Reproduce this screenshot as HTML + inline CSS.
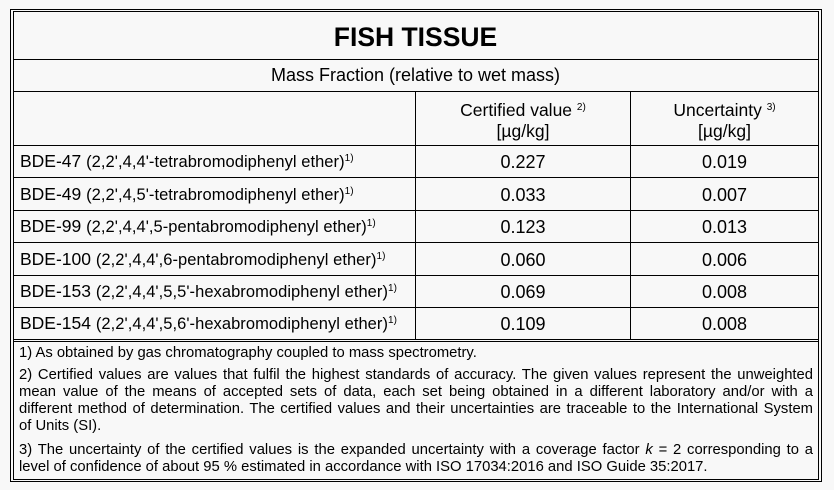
<!DOCTYPE html>
<html><head><meta charset="utf-8"><style>
body{margin:0;width:834px;height:490px;background:#f8f8f8;font-family:"Liberation Sans",sans-serif;color:#000;position:relative;overflow:hidden}
.l{position:absolute;background:#000}
.t{position:absolute;white-space:nowrap;line-height:1}
.c{text-align:center}
sup{font-size:10px;vertical-align:6px}
.fn{position:absolute;left:19px;width:794px;font-size:14.8px;line-height:17px;white-space:nowrap}
.j{text-align:justify;text-align-last:justify;white-space:normal}
.p{font-size:16.5px;letter-spacing:0.05px}
.v{font-size:18px}
</style></head><body>
<div style="position:absolute;left:10px;top:9px;width:810px;height:471px;border:1px solid #000"></div>
<div style="position:absolute;left:13px;top:11px;width:804px;height:467px;border:1px solid #000"></div>
<div class="l" style="left:13px;top:59px;width:805px;height:1px"></div>
<div class="l" style="left:13px;top:91px;width:805px;height:1px"></div>
<div class="l" style="left:13px;top:145px;width:805px;height:1px"></div>
<div class="l" style="left:13px;top:177px;width:805px;height:1px"></div>
<div class="l" style="left:13px;top:210px;width:805px;height:1px"></div>
<div class="l" style="left:13px;top:242px;width:805px;height:1px"></div>
<div class="l" style="left:13px;top:275px;width:805px;height:1px"></div>
<div class="l" style="left:13px;top:307px;width:805px;height:1px"></div>
<div class="l" style="left:13px;top:339px;width:805px;height:1px"></div>
<div class="l" style="left:13px;top:341px;width:805px;height:1px"></div>
<div class="l" style="left:415px;top:91px;width:1px;height:249px"></div>
<div class="l" style="left:630px;top:91px;width:1px;height:249px"></div>

<div class="t c" style="left:13px;width:805px;top:24px;font-size:26.5px;font-weight:bold">FISH TISSUE</div>
<div class="t c" style="left:13px;width:805px;top:66px;font-size:18px">Mass Fraction (relative to wet mass)</div>
<div class="t c" style="left:416px;width:214px;top:97px;font-size:17.5px;line-height:21px">Certified value <sup>2)</sup><br>[µg/kg]</div>
<div class="t c" style="left:631px;width:187px;top:97px;font-size:17.5px;line-height:21px">Uncertainty <sup>3)</sup><br>[µg/kg]</div>

<div class="t" style="left:20px;top:153px;font-size:17.5px">BDE-47 <span class="p">(2,2',4,4'-tetrabromodiphenyl ether)<sup>1)</sup></span></div>
<div class="t" style="left:20px;top:186px;font-size:17.5px">BDE-49 <span class="p">(2,2',4,5'-tetrabromodiphenyl ether)<sup>1)</sup></span></div>
<div class="t" style="left:20px;top:218px;font-size:17.5px">BDE-99 <span class="p">(2,2',4,4',5-pentabromodiphenyl ether)<sup>1)</sup></span></div>
<div class="t" style="left:20px;top:251px;font-size:17.5px">BDE-100 <span class="p">(2,2',4,4',6-pentabromodiphenyl ether)<sup>1)</sup></span></div>
<div class="t" style="left:20px;top:283px;font-size:17.5px">BDE-153 <span class="p">(2,2',4,4',5,5'-hexabromodiphenyl ether)<sup>1)</sup></span></div>
<div class="t" style="left:20px;top:315px;font-size:17.5px">BDE-154 <span class="p">(2,2',4,4',5,6'-hexabromodiphenyl ether)<sup>1)</sup></span></div>

<div class="t c v" style="left:416px;width:214px;top:153px">0.227</div>
<div class="t c v" style="left:416px;width:214px;top:186px">0.033</div>
<div class="t c v" style="left:416px;width:214px;top:218px">0.123</div>
<div class="t c v" style="left:416px;width:214px;top:251px">0.060</div>
<div class="t c v" style="left:416px;width:214px;top:283px">0.069</div>
<div class="t c v" style="left:416px;width:214px;top:315px">0.109</div>
<div class="t c v" style="left:631px;width:187px;top:153px">0.019</div>
<div class="t c v" style="left:631px;width:187px;top:186px">0.007</div>
<div class="t c v" style="left:631px;width:187px;top:218px">0.013</div>
<div class="t c v" style="left:631px;width:187px;top:251px">0.006</div>
<div class="t c v" style="left:631px;width:187px;top:283px">0.008</div>
<div class="t c v" style="left:631px;width:187px;top:315px">0.008</div>

<div class="fn" style="top:345px">1) As obtained by gas chromatography coupled to mass spectrometry.</div>
<div class="fn j" style="top:367px">2) Certified values are values that fulfil the highest standards of accuracy. The given values represent the unweighted</div>
<div class="fn j" style="top:384px">mean value of the means of accepted sets of data, each set being obtained in a different laboratory and/or with a</div>
<div class="fn j" style="top:401px">different method of determination. The certified values and their uncertainties are traceable to the International System</div>
<div class="fn" style="top:418px">of Units (SI).</div>
<div class="fn j" style="top:442px">3) The uncertainty of the certified values is the expanded uncertainty with a coverage factor <i>k</i> = 2 corresponding to a</div>
<div class="fn" style="top:459px">level of confidence of about 95 % estimated in accordance with ISO 17034:2016 and ISO Guide 35:2017.</div>
</body></html>
